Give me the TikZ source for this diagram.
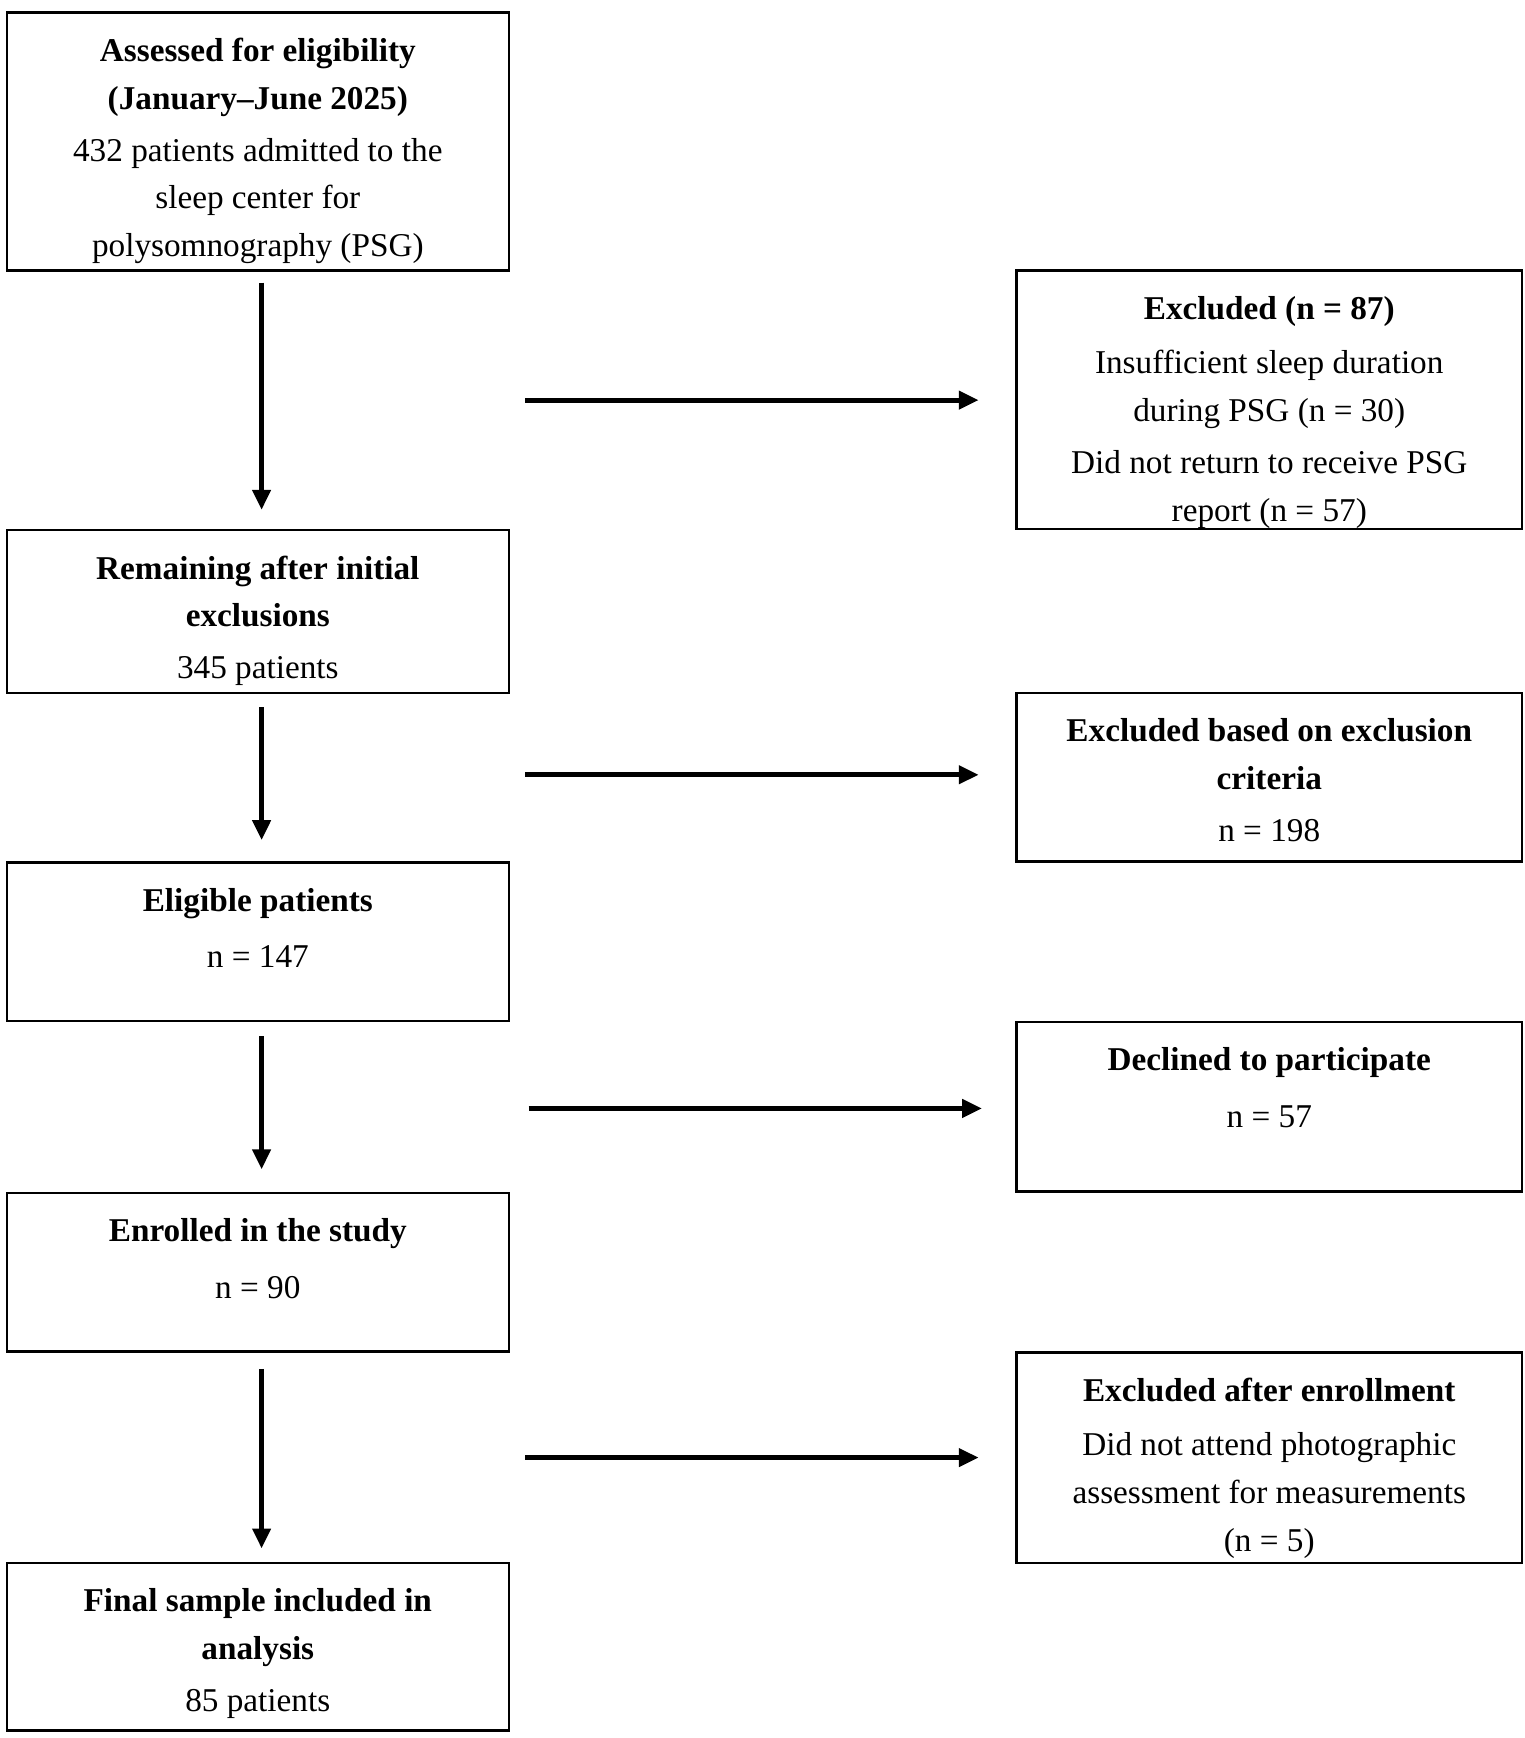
\documentclass[tikz,border=0pt]{standalone}
\usepackage{fontspec}
\setmainfont{Liberation Serif}
\usetikzlibrary{calc,arrows.meta}
\begin{document}
\begin{tikzpicture}[x=0.5pt,y=-0.5pt,
 box/.style={draw,line width=1.1pt,anchor=north west,inner sep=0},
 lbox/.style={box,minimum width=226.5pt},
 rbox/.style={box,minimum width=228pt},
 txt/.style={anchor=north,align=center,inner sep=0,font=\fontsize{15}{21.5}\selectfont},
 arr/.style={line width=2.2pt,-{Triangle[length=9pt,width=8pt]}}]
\useasboundingbox (0,0) rectangle (1375,1568);
\node[lbox,minimum height=116.5pt] (A) at (5,10) {};
\node[rbox,minimum height=116.5pt] (X1) at (916,243) {};
\node[lbox,minimum height=73.5pt] (B) at (5,477) {};
\node[rbox,minimum height=76pt] (X2) at (916,624) {};
\node[lbox,minimum height=71.5pt] (C) at (5,777) {};
\node[rbox,minimum height=76.5pt] (X3) at (916,921) {};
\node[lbox,minimum height=71.5pt] (D) at (5,1075) {};
\node[rbox,minimum height=95pt] (X4) at (916,1219) {};
\node[lbox,minimum height=75.5pt] (E) at (5,1409) {};
\node[txt] at ($(A.north)+(0,24)$) {\textbf{Assessed for eligibility}\\\textbf{(January–June 2025)}\\[2pt]432 patients admitted to the\\sleep center for\\polysomnography (PSG)};
\node[txt] at ($(X1.north)+(0,24)$) {\textbf{Excluded (n = 87)}\\[3pt]Insufficient sleep duration\\during PSG (n = 30)\\[2pt]Did not return to receive PSG\\report (n = 57)};
\node[txt] at ($(B.north)+(0,24)$) {\textbf{Remaining after initial}\\\textbf{exclusions}\\[2pt]345 patients};
\node[txt] at ($(X2.north)+(0,24)$) {\textbf{Excluded based on exclusion}\\\textbf{criteria}\\[2pt]n = 198};
\node[txt] at ($(C.north)+(0,24)$) {\textbf{Eligible patients}\\[4pt]n = 147};
\node[txt] at ($(X3.north)+(0,24)$) {\textbf{Declined to participate}\\[4pt]n = 57};
\node[txt] at ($(D.north)+(0,24)$) {\textbf{Enrolled in the study}\\[4pt]n = 90};
\node[txt] at ($(X4.north)+(0,24)$) {\textbf{Excluded after enrollment}\\[3pt]Did not attend photographic\\assessment for measurements\\(n = 5)};
\node[txt] at ($(E.north)+(0,24)$) {\textbf{Final sample included in}\\\textbf{analysis}\\[2pt]85 patients};
\coordinate (v1a) at (236,255); \coordinate (v1b) at (236,460);
\coordinate (v2a) at (236,638); \coordinate (v2b) at (236,758);
\coordinate (v3a) at (236,935); \coordinate (v3b) at (236,1055);
\coordinate (v4a) at (236,1235); \coordinate (v4b) at (236,1397);
\coordinate (h1a) at (474,361); \coordinate (h1b) at (883,361);
\coordinate (h2a) at (474,699); \coordinate (h2b) at (883,699);
\coordinate (h3a) at (477,1000); \coordinate (h3b) at (886,1000);
\coordinate (h4a) at (474,1315); \coordinate (h4b) at (883,1315);
\foreach \p in {v1,v2,v3,v4,h1,h2,h3,h4} \draw[arr] (\p a) -- (\p b);
\end{tikzpicture}
\end{document}
